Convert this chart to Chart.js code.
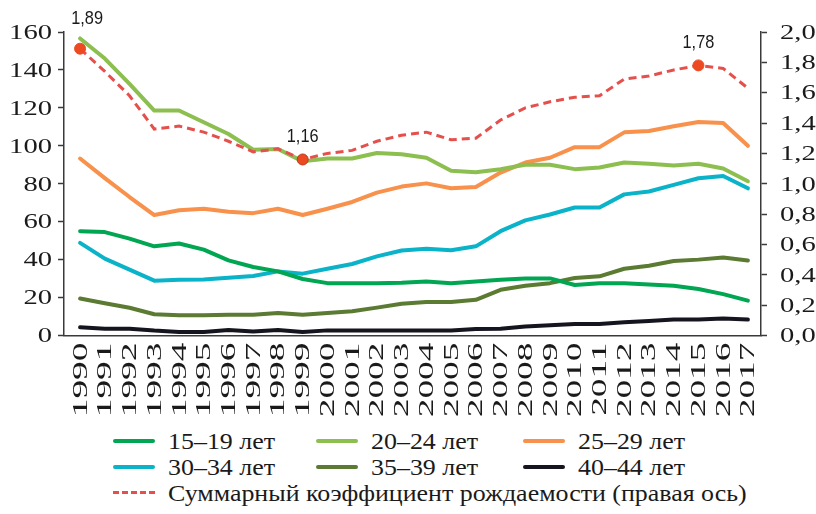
<!DOCTYPE html>
<html>
<head>
<meta charset="utf-8">
<script src="https://cdn.jsdelivr.net/npm/chart.js@4.4.1/dist/chart.umd.min.js"></script>
<style>
  html, body { margin: 0; padding: 0; background: #fff; }
  #wrap { position: relative; width: 816px; height: 514px; overflow: hidden; }
  #chartTFR { position: absolute; left: 0; top: 0; }
  .lg { position: absolute; font-family: "Liberation Serif", "Times New Roman", serif; font-size: 24px; color: #1a1a1a; white-space: nowrap; line-height: 26px; }
  .lg i { position: absolute; left: 0; top: 11px; width: 42px; height: 0; border-top: 4px solid; border-radius: 3px; }
  .lg span { position: absolute; left: 55px; top: 0; transform: scaleX(1.08); transform-origin: 0 50%; }
</style>
</head>
<body>
<div id="wrap">
  <canvas id="chartTFR" width="816" height="425"></canvas>
</div>
<script>
// годы и коэффициенты рождаемости по возрастам (на 1000 женщин)
const years = [1990, 1991, 1992, 1993, 1994, 1995, 1996, 1997, 1998, 1999, 2000, 2001, 2002, 2003,
  2004, 2005, 2006, 2007, 2008, 2009, 2010, 2011, 2012, 2013, 2014, 2015, 2016, 2017];

const age15_19 = [55, 54.5, 51.1, 47, 48.5, 45.3, 39.6, 36.1, 33.8, 29.8, 27.6, 27.6, 27.6, 27.8,
  28.5, 27.6, 28.5, 29.4, 30.1, 30.1, 26.6, 27.6, 27.6, 26.9, 26.2, 24.5, 21.8, 18.4];
const age20_24 = [156.6, 146, 132.7, 118.6, 118.6, 112.4, 106.2, 97.9, 98.3, 91.8, 93.3, 93.3, 96.2, 95.5,
  93.7, 86.8, 86.1, 87.7, 90, 90, 87.7, 88.6, 91.2, 90.5, 89.6, 90.5, 88, 81.3];
const age25_29 = [93.3, 83, 73, 63.5, 66, 66.8, 65.2, 64.5, 66.8, 63.5, 66.8, 70.4, 75.3, 78.5,
  80.2, 77.6, 78.3, 85.9, 91.2, 93.7, 99.3, 99.3, 107.1, 107.8, 110.3, 112.6, 112, 100];
const age30_34 = [48.8, 40.5, 34.7, 28.9, 29.4, 29.5, 30.5, 31.4, 33.8, 32.6, 35.2, 37.7, 41.7, 44.8,
  45.7, 44.9, 47, 55, 60.7, 63.8, 67.5, 67.5, 74.4, 75.9, 79.4, 82.9, 84.1, 77.6];
const age35_39 = [19.5, 17, 14.6, 11.2, 10.7, 10.7, 11, 11, 11.9, 11, 11.9, 12.8, 14.7, 16.7,
  17.6, 17.6, 18.8, 24.1, 26.2, 27.6, 30.3, 31.2, 35.2, 36.8, 39.3, 40, 41.1, 39.5];
const age40_44 = [4.3, 3.6, 3.6, 2.6, 1.9, 1.9, 2.9, 2.1, 2.9, 1.9, 2.7, 2.6, 2.6, 2.6,
  2.6, 2.6, 3.4, 3.6, 4.7, 5.4, 6.1, 6.1, 7, 7.7, 8.4, 8.4, 8.9, 8.4];

// суммарный коэффициент рождаемости (правая ось)
const tfr = [1.89, 1.74, 1.58, 1.36, 1.38, 1.34, 1.28, 1.21, 1.23, 1.16, 1.20, 1.22, 1.28, 1.32,
  1.34, 1.29, 1.30, 1.42, 1.50, 1.54, 1.57, 1.58, 1.69, 1.71, 1.75, 1.78, 1.76, 1.63];
const tfrMarked = [1990, 1999, 2015];

const leftTicks = [0, 20, 40, 60, 80, 100, 120, 140, 160];
const rightTicks = [0, 0.2, 0.4, 0.6, 0.8, 1.0, 1.2, 1.4, 1.6, 1.8, 2.0];

const ageLabels = ["15–19 лет", "20–24 лет", "25–29 лет", "30–34 лет", "35–39 лет", "40–44 лет"];
const tfrLabel = "Суммарный коэффициент рождаемости (правая ось)";

const ageSeries = [age15_19, age20_24, age25_29, age30_34, age35_39, age40_44];
const ageColors = ["#00a651", "#8cbf50", "#f7914b", "#0bb3c9", "#5b7a32", "#15151f"];
const tfrColor = "#e5504d";
const dotColor = "#ee4a22";

const axisColor = "#3a3a3a";
const textColor = "#1a1a1a";
const serifStack = "'Liberation Serif', 'Times New Roman', serif";

const pts = (arr) => arr.map((v, i) => ({ x: years[i], y: v }));
const comma = (v, d) => Number(v).toFixed(d).replace(".", ",");

// подписи делений: растянутый шрифт как в оригинале, позиции берутся из шкал
const axisLabels = {
  id: "axisLabels",
  afterDraw(chart) {
    const { ctx, scales, chartArea } = chart;
    const put = (text, x, y, rot, sx, size, align) => {
      ctx.save();
      ctx.translate(x, y);
      if (rot) ctx.rotate(rot);
      ctx.scale(sx, 1);
      ctx.font = size + "px " + serifStack;
      ctx.fillStyle = textColor;
      ctx.textAlign = align;
      ctx.textBaseline = "middle";
      ctx.fillText(text, 0, 0);
      ctx.restore();
    };
    leftTicks.forEach((v) => put(String(v), chartArea.left - 12, scales.y.getPixelForValue(v) + 1, 0, 1.3, 22, "right"));
    rightTicks.forEach((v) => put(comma(v, 1), chartArea.right + 19, scales.y1.getPixelForValue(v) + 1, 0, 1.3, 22, "left"));
    years.forEach((yr) => put(String(yr), scales.x.getPixelForValue(yr) + 1, chartArea.bottom + 7, -Math.PI / 2, 1.78, 21, "right"));
  },
};

// подписи 1,89 / 1,16 / 1,78 над отмеченными точками (узкий шрифт)
const markLabels = {
  id: "markLabels",
  afterDatasetsDraw(chart) {
    const idx = chart.data.datasets.findIndex((d) => d.yAxisID === "y1");
    const meta = chart.getDatasetMeta(idx);
    const ctx = chart.ctx;
    tfrMarked.forEach((yr) => {
      const i = years.indexOf(yr);
      const p = meta.data[i];
      const dx = i === 0 ? 7 : 0;
      const dy = i === 0 ? 30 : 23;
      ctx.save();
      ctx.translate(p.x + dx, p.y - dy);
      ctx.scale(0.86, 1);
      ctx.font = "19px 'Liberation Sans', Arial, sans-serif";
      ctx.fillStyle = textColor;
      ctx.textAlign = "center";
      ctx.textBaseline = "middle";
      ctx.fillText(comma(tfr[i], 2), 0, 0);
      ctx.restore();
    });
  },
};

const datasets = ageSeries.map((arr, k) => ({
  label: ageLabels[k],
  data: pts(arr),
  borderColor: ageColors[k],
  backgroundColor: ageColors[k],
  borderWidth: 4,
  pointRadius: 0,
  tension: 0,
  yAxisID: "y",
  borderCapStyle: "round",
  borderJoinStyle: "round",
}));

datasets.push({
  label: tfrLabel,
  data: pts(tfr),
  borderColor: tfrColor,
  backgroundColor: dotColor,
  borderWidth: 3,
  borderDash: [8, 5],
  pointRadius: years.map((y) => (tfrMarked.includes(y) ? 5.5 : 0)),
  pointBackgroundColor: dotColor,
  pointBorderColor: years.map((y) => (y === 1999 ? "#b83a1e" : dotColor)),
  pointBorderWidth: 1,
  yAxisID: "y1",
  order: -1,
});

new Chart(document.getElementById("chartTFR"), {
  type: "line",
  data: { datasets },
  options: {
    responsive: false,
    animation: false,
    layout: { padding: { top: 32, left: 0, right: 0, bottom: 0 } },
    plugins: { legend: { display: false }, tooltip: { enabled: false } },
    scales: {
      x: {
        type: "linear",
        min: 1989.35,
        max: 2017.53,
        afterBuildTicks: (axis) => { axis.ticks = years.map((v) => ({ value: v })); },
        afterFit: (axis) => { axis.height = 89.5; },
        ticks: { display: false, autoSkip: false },
        grid: { drawOnChartArea: false, drawTicks: false },
        border: { color: axisColor, width: 1.5 },
      },
      y: {
        position: "left",
        min: 0,
        max: 160,
        afterBuildTicks: (axis) => { axis.ticks = leftTicks.map((v) => ({ value: v })); },
        afterFit: (axis) => { axis.width = 64; },
        ticks: { display: false },
        grid: { drawOnChartArea: false, tickLength: 6, color: axisColor, tickWidth: 1.5 },
        border: { color: axisColor, width: 1.5 },
      },
      y1: {
        position: "right",
        min: 0,
        max: 2,
        afterBuildTicks: (axis) => { axis.ticks = rightTicks.map((v) => ({ value: v })); },
        afterFit: (axis) => { axis.width = 55; },
        ticks: { display: false },
        grid: { drawOnChartArea: false, tickLength: 6, color: axisColor, tickWidth: 1.5 },
        border: { color: axisColor, width: 1.5 },
      },
    },
  },
  plugins: [axisLabels, markLabels],
});

// легенда: три колонки, три строки
const wrap = document.getElementById("wrap");
const colX = [113, 316, 523];
const rowY = [428, 454, 480];
const addItem = (x, y, color, text, dashed) => {
  const el = document.createElement("div");
  el.className = "lg";
  el.style.left = x + "px";
  el.style.top = y + "px";
  const ln = document.createElement("i");
  if (dashed) {
    ln.style.borderTop = "3px dashed " + color;
    ln.style.borderRadius = "0";
  } else {
    ln.style.borderTopColor = color;
  }
  const sp = document.createElement("span");
  sp.textContent = text;
  el.appendChild(ln);
  el.appendChild(sp);
  wrap.appendChild(el);
};
ageLabels.forEach((t, k) => addItem(colX[k % 3], rowY[Math.floor(k / 3)], ageColors[k], t, false));
addItem(colX[0], rowY[2], tfrColor, tfrLabel, true);
</script>
</body>
</html>
